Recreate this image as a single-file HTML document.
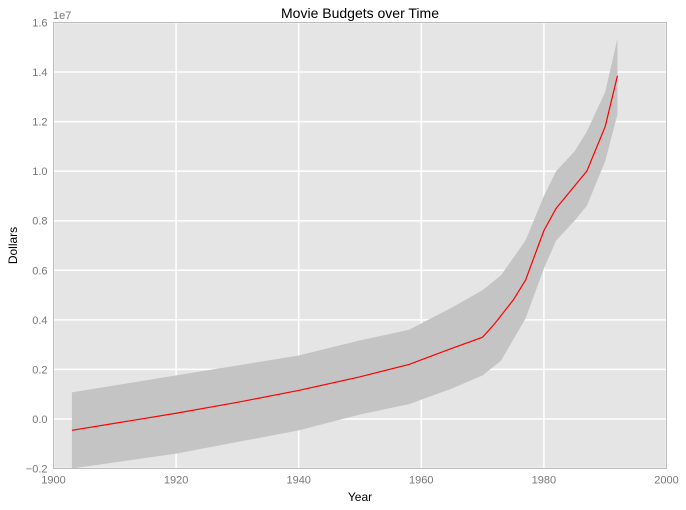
<!DOCTYPE html>
<html><head><meta charset="utf-8"><style>
body{margin:0;background:#fff;}
svg{display:block;font-family:"Liberation Sans",sans-serif;}
</style></head><body>
<svg id="chart" width="686" height="510"></svg>
<script>
const years=[1903,1920,1930,1940,1950,1958,1965,1970,1972,1975,1977,1980,1982,1985,1987,1990,1992];
const meanVals=[-0.046,0.023,0.067,0.115,0.17,0.22,0.285,0.33,0.385,0.48,0.56,0.76,0.85,0.94,1.0,1.18,1.385];
const bandYears=[1903,1920,1940,1950,1958,1965,1970,1973,1977,1980,1982,1985,1987,1990,1992];
const upperVals=[0.107,0.176,0.256,0.317,0.36,0.45,0.52,0.58,0.72,0.90,1.0,1.08,1.16,1.32,1.535];
const lowerVals=[-0.2,-0.14,-0.046,0.018,0.06,0.123,0.176,0.235,0.405,0.607,0.72,0.80,0.86,1.04,1.23];
const xTicks=[1900,1920,1940,1960,1980,2000];
const yTicks=[-0.2,0.0,0.2,0.4,0.6,0.8,1.0,1.2,1.4,1.6];
const L=53.5,R=666.5,T=22.5,B=468.5;
const xs=v=>L+(v-1900)/100*(R-L);
const ys=v=>B-(v+0.2)/1.8*(B-T);
const NS="http://www.w3.org/2000/svg";
const svg=document.getElementById('chart');
function mk(tag,attrs,parent){const e=document.createElementNS(NS,tag);for(const k in attrs)e.setAttribute(k,attrs[k]);(parent||svg).appendChild(e);return e;}
const bg=mk('rect',{x:L,y:T,width:R-L,height:B-T,fill:'#e5e5e5'});


xTicks.forEach(t=>{const g=mk('line',{x1:xs(t),x2:xs(t),y1:T,y2:B,stroke:'#fff','stroke-width':1.5});


const tx=mk('text',{x:xs(t),y:B+15,'text-anchor':'middle','font-size':11,fill:'#777'});tx.textContent=t;

});
yTicks.forEach(t=>{const g=mk('line',{x1:L,x2:R,y1:ys(t),y2:ys(t),stroke:'#fff','stroke-width':1.5});


const tx=mk('text',{x:L-6,y:ys(t)+4,'text-anchor':'end','font-size':11,fill:'#777'});tx.textContent=(t<0?'\u2212':'')+Math.abs(t).toFixed(1);

});
let d='M'+bandYears.map((y,i)=>xs(y)+','+ys(upperVals[i])).join('L');
for(let i=bandYears.length-1;i>=0;i--)d+='L'+xs(bandYears[i])+','+ys(lowerVals[i]);
const band=mk('path',{d:d+'Z',fill:'#c4c4c4'});


const line=mk('polyline',{points:years.map((y,i)=>xs(y)+','+ys(meanVals[i])).join(' '),fill:'none',stroke:'#f00','stroke-width':1.2});


const fr=mk('rect',{x:L,y:T,width:R-L,height:B-T,fill:'none',stroke:'#bcbcbc','stroke-width':1});


const ti=mk('text',{x:(L+R)/2,y:18,'text-anchor':'middle','font-size':14,fill:'#000'});ti.textContent='Movie Budgets over Time';


const xl=mk('text',{x:(L+R)/2,y:501,'text-anchor':'middle','font-size':12,fill:'#000'});xl.textContent='Year';


const yl=mk('text',{x:17,y:(T+B)/2,'text-anchor':'middle','font-size':12,fill:'#000',transform:'rotate(-90 17 '+(T+B)/2+')'});yl.textContent='Dollars';


const off=mk('text',{x:53,y:19,'font-size':11,fill:'#777'});off.textContent='1e7';


</script>
</body></html>
